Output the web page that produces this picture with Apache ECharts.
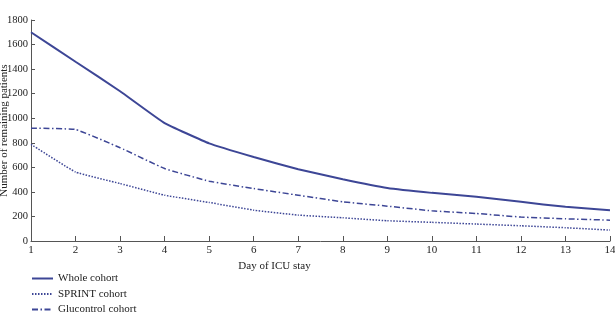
<!DOCTYPE html>
<html>
<head>
<meta charset="utf-8">
<script src="https://cdn.jsdelivr.net/npm/echarts@6/dist/echarts.min.js"></script>
<style>
  html, body { margin: 0; padding: 0; background: #fff; }
  #chart { width: 615px; height: 317px; }
</style>
</head>
<body>
<div id="chart"></div>
<script>
// ICU 住院天数
const days = ['1', '2', '3', '4', '5', '6', '7', '8', '9', '10', '11', '12', '13', '14'];
// 各队列剩余患者数
const wholeCohort = [1700, 1460, 1220, 960, 795, 684, 584, 503, 432, 392, 360, 319, 278, 251];
const sprintCohort = [787, 562, 468, 373, 314, 251, 211, 189, 165, 152, 138, 124, 108, 89];
const glucontrolCohort = [919, 908, 760, 590, 487, 427, 373, 319, 284, 246, 224, 195, 181, 170];

const lineColor = '#3d4696';
const serif = '"Liberation Serif", "DejaVu Serif", serif';

let myChart = echarts.init(document.getElementById('chart'));

let option = {
  backgroundColor: '#fff',
  animation: false,
  textStyle: { fontFamily: serif },
  grid: { left: 31, right: 5, top: 20, bottom: 76, containLabel: false, outerBoundsMode: 'none' },
  legend: {
    orient: 'vertical',
    left: 31,
    top: 273,
    padding: 0,
    itemWidth: 21,
    itemHeight: 10,
    itemGap: 4.5,
    itemStyle: { opacity: 0 },
    textStyle: { fontFamily: serif, fontSize: 11, color: '#222' },
    data: ['Whole cohort', 'SPRINT cohort', 'Glucontrol cohort']
  },
  xAxis: {
    type: 'category',
    data: days,
    boundaryGap: false,
    name: 'Day of ICU stay',
    nameLocation: 'middle',
    nameGap: 19,
    nameTextStyle: { fontFamily: serif, fontSize: 11, color: '#222', padding: [0, 92, 0, 0] },
    axisLine: { lineStyle: { color: '#555', width: 1 } },
    axisTick: { inside: true, length: 5, alignWithLabel: true, lineStyle: { color: '#555' } },
    axisLabel: { fontFamily: serif, fontSize: 11, color: '#222', margin: 4 },
    splitLine: { show: false }
  },
  yAxis: {
    type: 'value',
    min: 0,
    max: 1800,
    interval: 200,
    name: 'Number of remaining patients',
    nameLocation: 'middle',
    nameGap: 21,
    nameMoveOverlap: false,
    nameTextStyle: { fontFamily: serif, fontSize: 11, color: '#222' },
    axisLine: { show: true, lineStyle: { color: '#555', width: 1 } },
    axisTick: { show: true, inside: true, length: 4, lineStyle: { color: '#555' } },
    axisLabel: {
      fontFamily: serif, fontSize: 10.5, color: '#222', margin: 3,
      formatter: function (v) { return String(v); }
    },
    splitLine: { show: false }
  },
  series: [
    {
      name: 'Whole cohort',
      type: 'line',
      data: wholeCohort,
      symbol: 'none',
      smooth: 0.1,
      lineStyle: { color: lineColor, width: 2, type: 'solid' },
      itemStyle: { color: lineColor }
    },
    {
      name: 'SPRINT cohort',
      type: 'line',
      data: sprintCohort,
      symbol: 'none',
      smooth: 0.1,
      lineStyle: { color: lineColor, width: 1.5, type: [1.5, 1.5] },
      itemStyle: { color: lineColor }
    },
    {
      name: 'Glucontrol cohort',
      type: 'line',
      data: glucontrolCohort,
      symbol: 'none',
      smooth: 0.1,
      lineStyle: { color: lineColor, width: 1.5, type: [6, 2.5, 1.5, 2.5] },
      itemStyle: { color: lineColor }
    }
  ]
};

myChart.setOption(option);
</script>
</body>
</html>
